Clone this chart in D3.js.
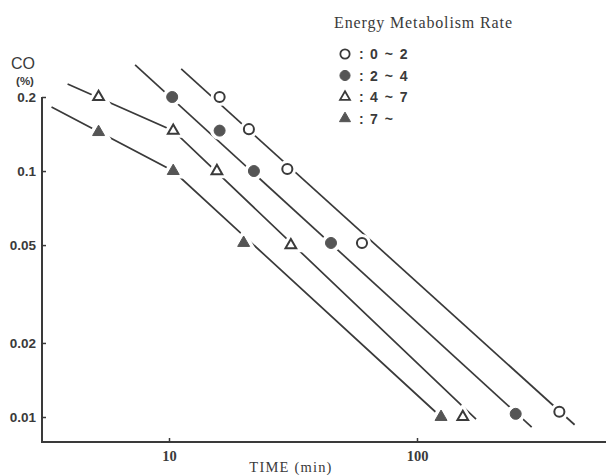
<!DOCTYPE html>
<html>
<head>
<meta charset="utf-8">
<script src="https://cdn.jsdelivr.net/npm/d3@7"></script>
<style>
  body { margin: 0; background: #fff; }
  svg { display: block; }
</style>
</head>
<body>
<div class="container"></div>
<script>
// values: [time (min), CO (%)]
const openCircle = [[16, 0.2], [21, 0.148], [30, 0.102], [60, 0.051], [375, 0.0105]]
const filledCircle = [[10.3, 0.2], [16, 0.146], [22, 0.1], [45, 0.051], [250, 0.0103]]
const openTri = [[5.2, 0.2], [10.4, 0.146], [15.6, 0.1], [31, 0.05], [153, 0.01]]
const filledTri = [[5.2, 0.144], [10.4, 0.1], [20, 0.051], [125, 0.01]]

// fitted lines drawn through each group
const openCircleFit = [[11.2, 0.26], [432, 0.0093]]
const filledCircleFit = [[7.3, 0.27], [290, 0.0091]]
const openTriFit = [[3.9, 0.226], [10.4, 0.146], [173, 0.0098]]
const filledTriFit = [[3.36, 0.182], [10.4, 0.1], [125, 0.01]]

const yTicks = [0.01, 0.02, 0.05, 0.1, 0.2]
const xTicks = [10, 100]
const legendLabels = ["0 ~ 2", "2 ~ 4", "4 ~ 7", "7 ~"]

const width = 608
const height = 475
const ink = "#3a3a3a"

const x = d3.scaleLog().domain([10, 100]).range([169, 417])
const y = d3.scaleLog().domain([0.01, 0.2]).range([417, 97])
const axisY = 442
const axisX = 42

const svg = d3.select(".container")
    .append("svg")
    .attr("width", width)
    .attr("height", height)

// axes
svg.append("path")
    .attr("d", `M${axisX},${y(0.2)} V${axisY} H${width - 2}`)
    .attr("fill", "none")
    .attr("stroke", ink)
    .attr("stroke-width", 2)

const yAxis = svg.append("g")
    .attr("transform", `translate(${axisX},0)`)
    .call(d3.axisLeft(y).tickValues(yTicks).tickSize(-4).tickPadding(6)
        .tickFormat(d => String(d)))
yAxis.select(".domain").remove()
yAxis.selectAll("line").attr("stroke", ink).attr("stroke-width", 1.5)
yAxis.selectAll("text")
    .attr("fill", ink)
    .attr("font-family", "Liberation Sans, Arial, sans-serif")
    .attr("font-weight", "bold")
    .attr("font-size", 13.5)

const xAxis = svg.append("g")
    .attr("transform", `translate(0,${axisY})`)
    .call(d3.axisBottom(x).tickValues(xTicks).tickSize(-4).tickPadding(9)
        .tickFormat(d => String(d)))
xAxis.select(".domain").remove()
xAxis.selectAll("line").attr("stroke", ink).attr("stroke-width", 1.5)
xAxis.selectAll("text")
    .attr("fill", ink)
    .attr("font-family", "Liberation Serif, Times New Roman, serif")
    .attr("font-weight", "bold")
    .attr("font-size", 14.5)

svg.append("text")
    .attr("x", 291).attr("y", 472)
    .attr("text-anchor", "middle")
    .attr("fill", ink)
    .attr("font-family", "Liberation Serif, serif")
    .attr("font-size", 14.5)
    .attr("letter-spacing", 1.2)
    .text("TIME (min)")

svg.append("text")
    .attr("x", 23).attr("y", 69)
    .attr("text-anchor", "middle")
    .attr("fill", ink)
    .attr("font-family", "Liberation Sans, Arial, sans-serif")
    .attr("font-size", 16)
    .text("CO")

svg.append("text")
    .attr("x", 25).attr("y", 85)
    .attr("text-anchor", "middle")
    .attr("fill", ink)
    .attr("font-family", "Liberation Sans, Arial, sans-serif")
    .attr("font-weight", "bold")
    .attr("font-size", 11.5)
    .text("(%)")

// lines
const line = d3.line().x(d => x(d[0])).y(d => y(d[1]))
svg.append("g")
    .selectAll("path")
    .data([openCircleFit, filledCircleFit, openTriFit, filledTriFit])
    .join("path")
    .attr("d", line)
    .attr("fill", "none")
    .attr("stroke", ink)
    .attr("stroke-width", 1.7)

const series = [
    { data: openCircle, type: d3.symbolCircle, size: 80, filled: false },
    { data: filledCircle, type: d3.symbolCircle, size: 95, filled: true },
    { data: openTri, type: d3.symbolTriangle, size: 50, filled: false },
    { data: filledTri, type: d3.symbolTriangle, size: 62, filled: true }
]

// white halos make the breaks in the lines around each mark
series.forEach(s => {
    const sym = d3.symbol().type(s.type).size(s.size)
    svg.append("g")
        .selectAll("path")
        .data(s.data)
        .join("path")
        .attr("transform", d => `translate(${x(d[0])},${y(d[1])})`)
        .attr("d", sym)
        .attr("fill", "#fff")
        .attr("stroke", "#fff")
        .attr("stroke-width", 8)
})

series.forEach(s => {
    const sym = d3.symbol().type(s.type).size(s.size)
    svg.append("g")
        .selectAll("path")
        .data(s.data)
        .join("path")
        .attr("transform", d => `translate(${x(d[0])},${y(d[1])})`)
        .attr("d", sym)
        .attr("fill", s.filled ? "#555" : "#fff")
        .attr("stroke", s.filled ? "#555" : ink)
        .attr("stroke-width", s.filled ? 1 : 2)
})

// legend
svg.append("text")
    .attr("x", 334).attr("y", 28)
    .attr("fill", ink)
    .attr("font-family", "Liberation Serif, serif")
    .attr("font-size", 16)
    .attr("textLength", 178)
    .text("Energy Metabolism Rate")

const legend = svg.append("g")
    .selectAll("g")
    .data(series)
    .join("g")
    .attr("transform", (d, i) => `translate(345,${54 + i * 21.5})`)

legend.append("path")
    .attr("d", d => d3.symbol().type(d.type).size(d.size * 0.85)())
    .attr("fill", d => d.filled ? "#555" : "#fff")
    .attr("stroke", d => d.filled ? "#555" : ink)
    .attr("stroke-width", d => d.filled ? 1 : 1.8)

legend.append("text")
    .attr("x", 14).attr("y", 5)
    .attr("fill", ink)
    .attr("font-family", "Liberation Sans, Arial, sans-serif")
    .attr("font-weight", "bold")
    .attr("font-size", 14)
    .text(":")

legend.append("text")
    .attr("x", 25).attr("y", 5)
    .attr("fill", ink)
    .attr("font-family", "Liberation Sans, Arial, sans-serif")
    .attr("font-weight", "bold")
    .attr("font-size", 14)
    .attr("word-spacing", 3)
    .text((d, i) => legendLabels[i])
</script>
</body>
</html>
